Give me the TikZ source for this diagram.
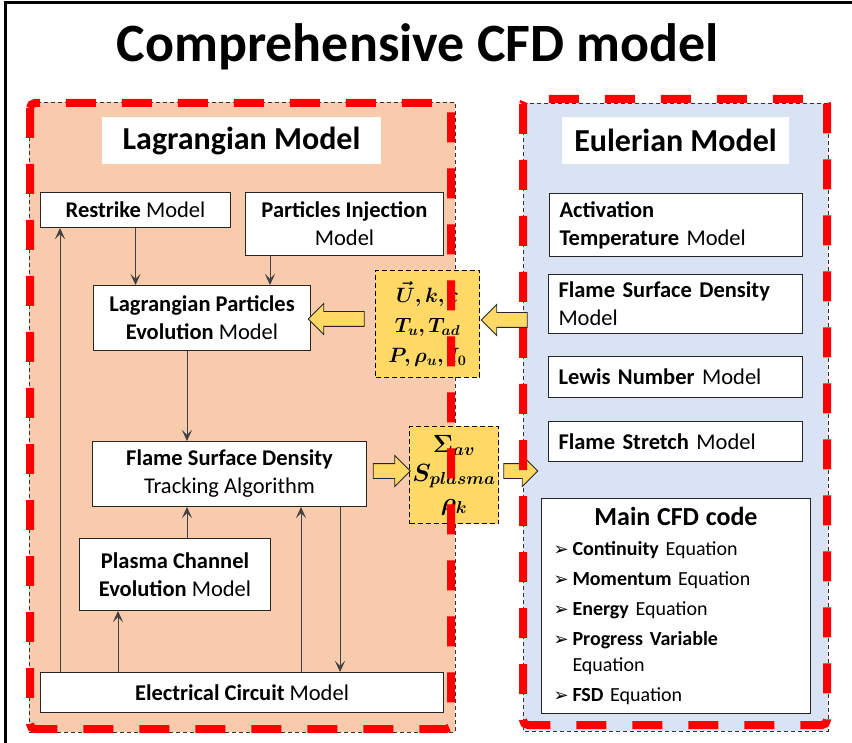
\documentclass[tikz,border=0pt]{standalone}
\usepackage{fontspec}
\setmainfont{Carlito}
\newfontfamily\symf{DejaVu Sans}
\usepackage{bm}
\usetikzlibrary{arrows.meta,shapes.arrows,positioning}
\definecolor{lagfill}{HTML}{F8CBAD}
\definecolor{eulfill}{HTML}{DAE3F3}
\definecolor{varfill}{HTML}{FFD966}
\definecolor{flowgray}{HTML}{404040}
\newcommand{\itm}{\makebox[19pt][l]{\symf\fontsize{18}{30}\selectfont ➢}}
\tikzset{
  box/.style={draw=black!85, line width=1pt, fill=white, anchor=north west, inner sep=0pt,
    align=center, font=\fontsize{22.5}{28}\selectfont},
  lbox/.style={box, align=left, inner xsep=10pt},
  panel/.style={draw=black!80, line width=0.9pt, dash pattern=on 4pt off 3pt},
  reddash/.style={draw=red, line width=8pt, dash pattern=on 30pt off 26pt, rounded corners=5pt},
  varbox/.style={draw=black, line width=1pt, dash pattern=on 5pt off 3pt, fill=varfill,
    anchor=north west, inner sep=0pt, align=center, font=\fontsize{22}{30}\selectfont},
  flow/.style={-{Stealth[length=11pt,width=10pt,inset=5pt]}, line width=0.8pt, draw=flowgray},
  blockarrow/.style={single arrow, draw=black!85, fill=varfill, line width=0.9pt,
    inner xsep=0pt, inner ysep=7pt, minimum width=30pt, single arrow head extend=8pt},
  paneltitle/.style={fill=white, inner sep=0pt, font=\fontsize{32}{36}\selectfont\bfseries}
}
\begin{document}
\begin{tikzpicture}[x=1pt,y=-1pt]
\useasboundingbox (0,0) rectangle (852,743);
% outer frame
\draw[line width=3pt] (5,746) -- (5,3) -- (855,3);
\node[font=\fontsize{54}{60}\selectfont\bfseries, anchor=base] (title) at (418,62) {Comprehensive CFD model};
% panels
\fill[lagfill] (29,102) rectangle (455,732);
\draw[panel] (29,102) rectangle (455,732);
\fill[eulfill] (523,103) rectangle (828,731);
\draw[panel] (523,103) rectangle (828,731);
\node[paneltitle, minimum width=279pt, minimum height=47pt] (lagtitle) at (241.5,140.5) {Lagrangian Model};
\node[paneltitle, minimum width=227pt, minimum height=47pt] (eultitle) at (675.5,140.5) {Eulerian Model};

% Lagrangian side
\node[box, minimum width=190pt, minimum height=35pt] (restrike) at (40,192) {\textbf{Restrike} Model};
\node[box, minimum width=198pt, minimum height=63pt] (inject) at (245,192) {\textbf{Particles Injection}\\Model};
\node[box, minimum width=217pt, minimum height=65pt] (lpe) at (93,285) {\textbf{Lagrangian Particles}\\\textbf{Evolution} Model};
\node[box, minimum width=274pt, minimum height=65pt] (fsdtrack) at (92,441) {\textbf{Flame Surface Density}\\Tracking Algorithm};
\node[box, minimum width=191pt, minimum height=72pt] (plasma) at (79,538) {\textbf{Plasma Channel}\\\textbf{Evolution} Model};
\node[box, minimum width=403pt, minimum height=40pt] (circuit) at (40,672) {\textbf{Electrical Circuit} Model};

\draw[flow] (restrike.south) -- (restrike.south |- lpe.north);
\draw[flow] (270,0 |- inject.south) -- (270,0 |- lpe.north);
\draw[flow] (187,0 |- lpe.south) -- (187,0 |- fsdtrack.north);
\draw[flow] (187,0 |- plasma.north) -- (187,0 |- fsdtrack.south);
\draw[flow] (118,0 |- circuit.north) -- (118,0 |- plasma.south);
\draw[flow] (301,0 |- circuit.north) -- (301,0 |- fsdtrack.south);
\draw[flow] (340,0 |- fsdtrack.south) -- (340,0 |- circuit.north);
\draw[flow] (60,0 |- circuit.north) -- (60,0 |- restrike.south);

% Eulerian side
\node[lbox, text width=233pt, minimum height=63pt] (activ) at (549,193) {\textbf{Activation}\\\textbf{Temperature} Model};
\node[lbox, text width=234pt, minimum height=59pt] (fsdmodel) at (548,274) {\textbf{Flame Surface Density}\\Model};
\node[lbox, text width=234pt, minimum height=41pt] (lewis) at (548,356) {\textbf{Lewis Number} Model};
\node[lbox, text width=234pt, minimum height=40pt] (stretch) at (548,421) {\textbf{Flame Stretch} Model};
\node[lbox, text width=245pt, inner xsep=12pt, minimum height=215pt, font=\fontsize{20}{30}\selectfont] (maincfd) at (541,498)
  {\makebox[\linewidth]{\fontsize{26}{32}\selectfont\bfseries Main CFD code}\\
   \itm\textbf{Continuity} Equation\\
   \itm\textbf{Momentum} Equation\\
   \itm\textbf{Energy} Equation\\
   \itm\textbf{Progress Variable}\\[-4pt]
   \hspace*{19pt}Equation\\
   \itm\textbf{FSD} Equation};

% exchanged variables
\node[varbox, minimum width=104pt, minimum height=107pt] (varsin) at (375,270)
  {$\bm{\vec{U}, k, \varepsilon}$\\$\bm{T_u, T_{ad}}$\\$\bm{P, \rho_u, I_0}$};
\node[varbox, minimum width=89pt, minimum height=97pt, font=\fontsize{24}{29}\selectfont] (varsout) at (409,426)
  {$\bm{\Sigma_{av}}$\\$\bm{S_{plasma}}$\\$\bm{\rho_k}$};
\node[blockarrow, shape border rotate=180, minimum height=56pt] (inlag) at (340,319) {};
\node[blockarrow, shape border rotate=180, minimum height=46pt] (ineul) at (508,320) {};
\node[blockarrow, minimum height=37pt] (outlag) at (388,471) {};
\node[blockarrow, minimum height=34pt] (outeul) at (517,471) {};

% red frames on top
\draw[reddash] (30,103) rectangle (451,729);
\draw[reddash] (523,99) rectangle (827,725);
\end{tikzpicture}
\end{document}
